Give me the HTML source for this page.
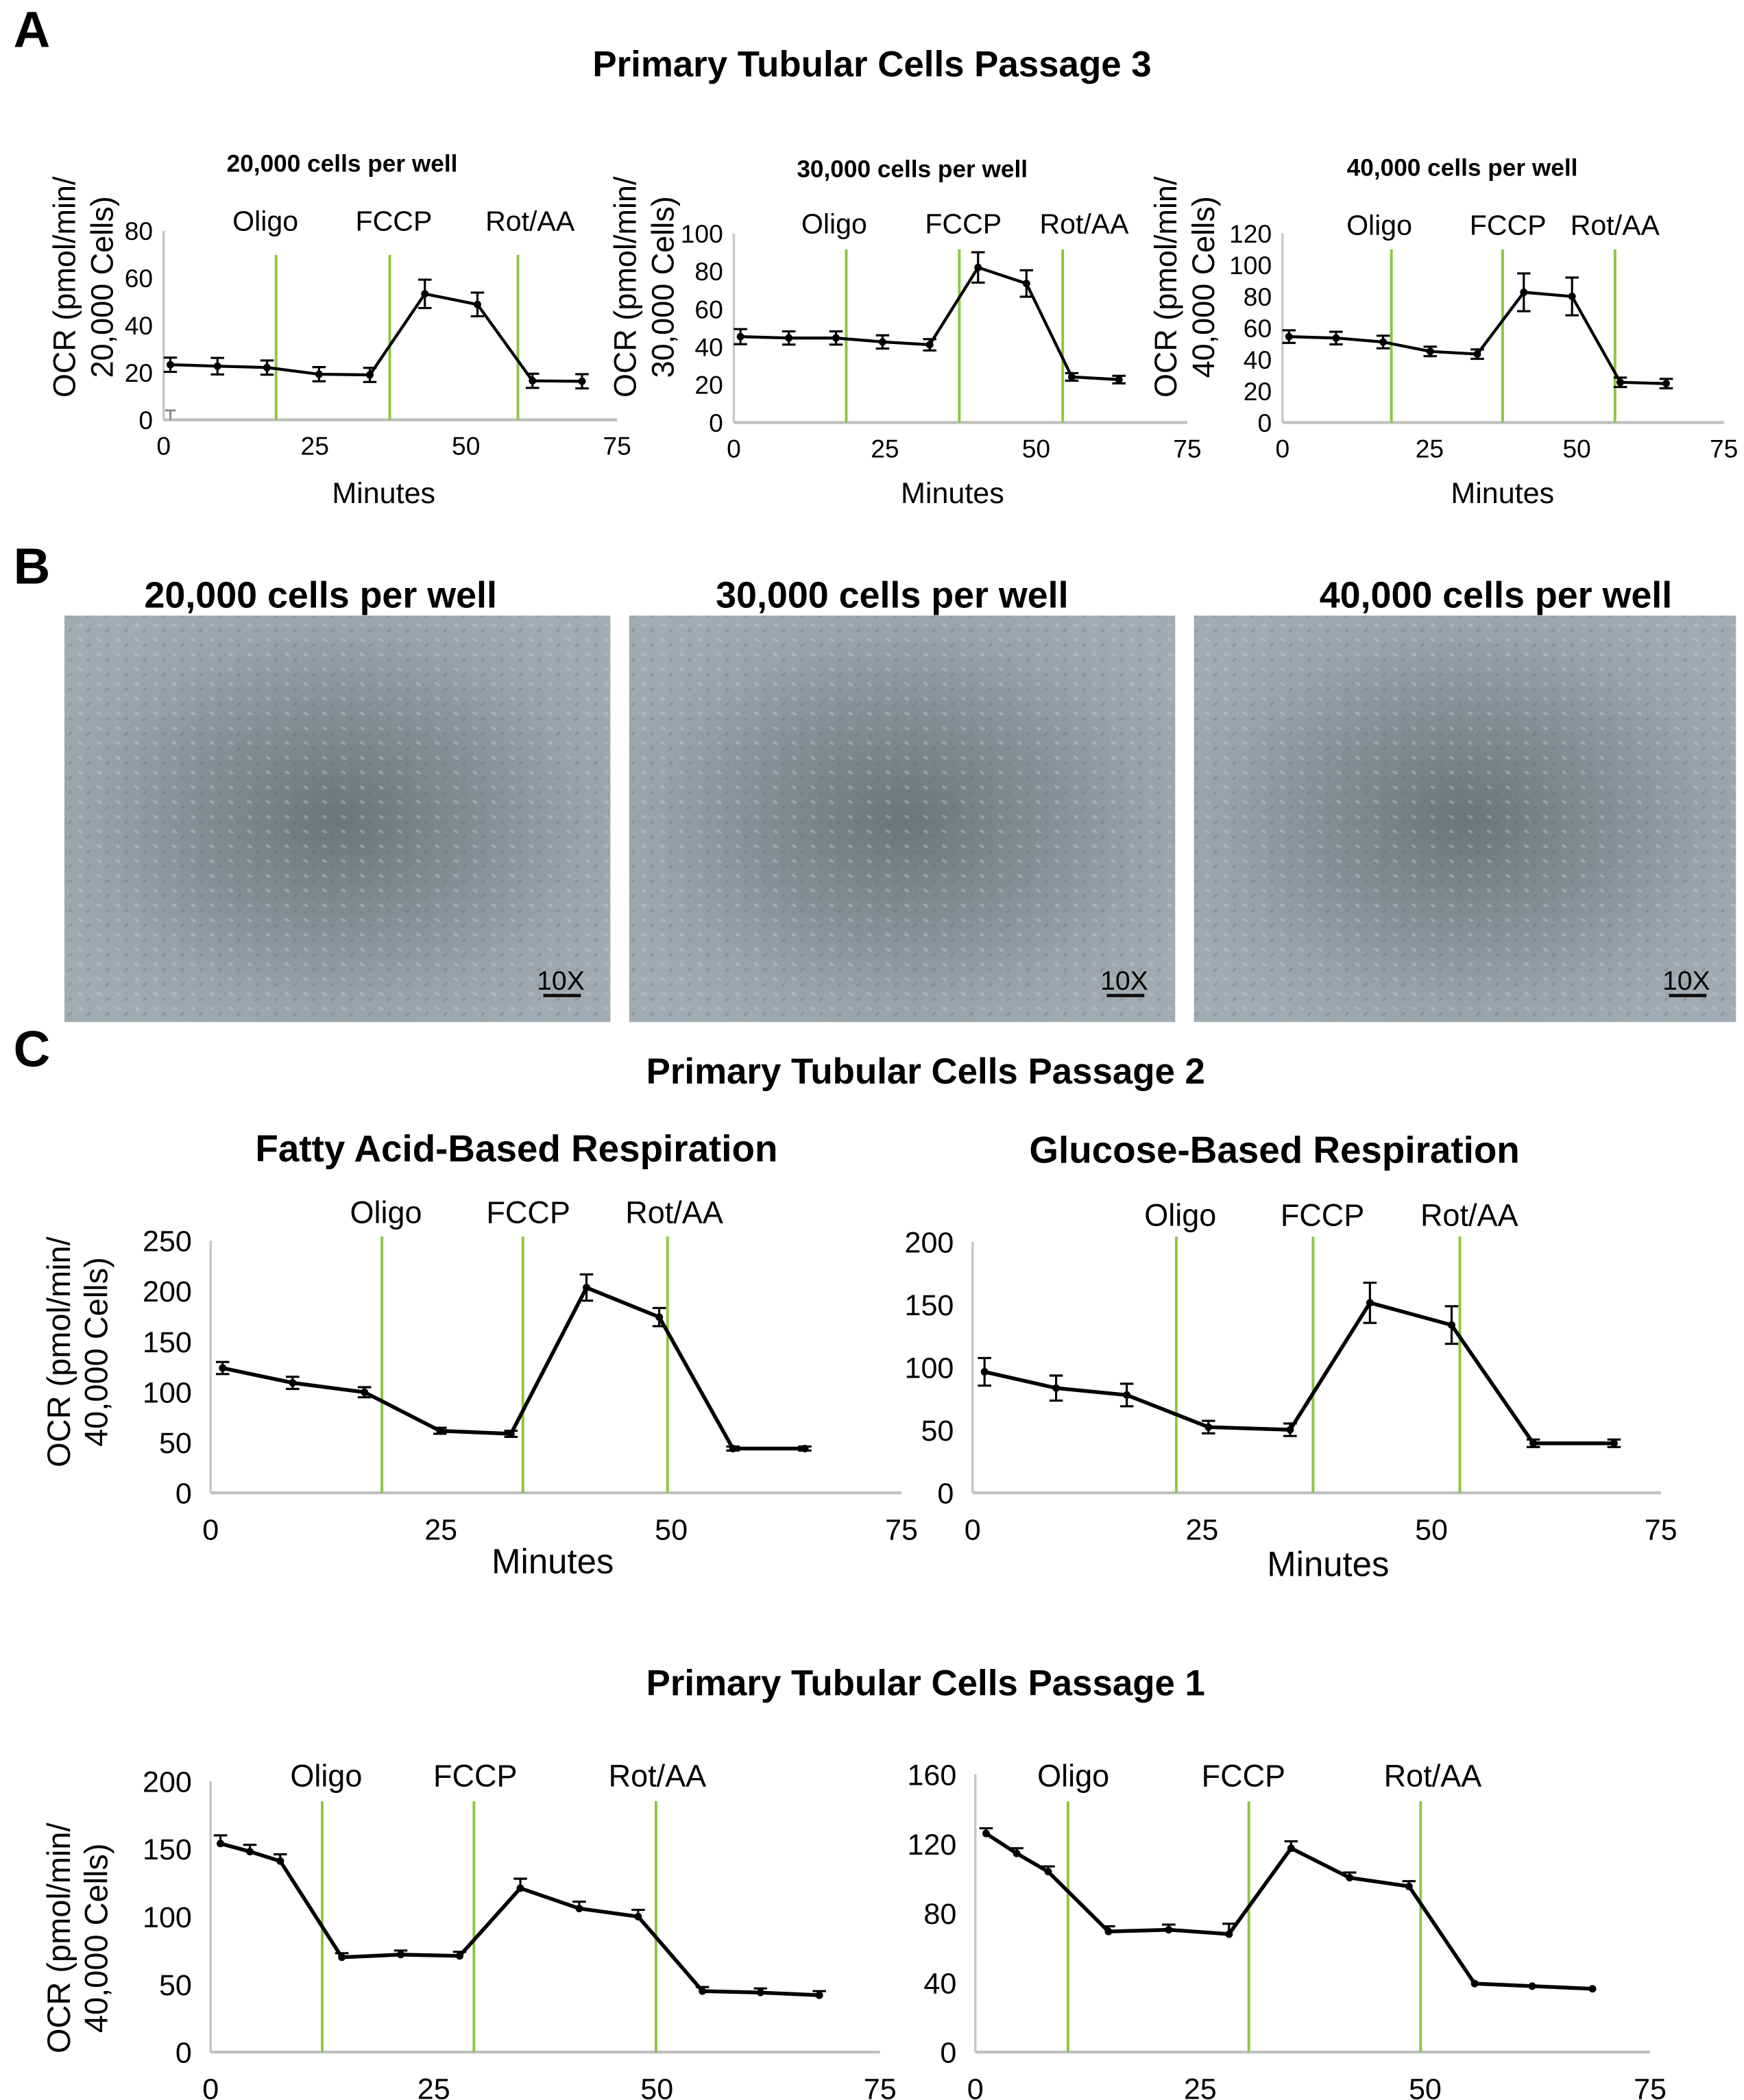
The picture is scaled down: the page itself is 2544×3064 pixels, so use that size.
<!DOCTYPE html>
<html><head><meta charset="utf-8"><style>
html,body{margin:0;padding:0;background:#fff}
svg{display:block}
text{font-family:"Liberation Sans",sans-serif;fill:#000}
</style></head><body>
<svg id="fig" width="2544" height="3064" viewBox="0 0 1300 1565.7" xmlns="http://www.w3.org/2000/svg">
<defs>
<radialGradient id="cellg" cx="50%" cy="50%" r="60%">
<stop offset="0" stop-color="#6c7678"/><stop offset="0.35" stop-color="#7f8a8d"/><stop offset="0.75" stop-color="#97a3a9"/><stop offset="1" stop-color="#a0acb2"/>
</radialGradient>
<pattern id="cellp" width="14" height="11" patternUnits="userSpaceOnUse">
<ellipse cx="4" cy="4" rx="2.2" ry="1.1" fill="#c8d2d6" opacity="0.35" transform="rotate(30 4 4)"/>
<ellipse cx="10" cy="8" rx="2" ry="1" fill="#55626a" opacity="0.25" transform="rotate(-40 10 8)"/>
</pattern>
</defs>
<g>
<text x="10" y="35" font-size="38" font-weight="bold">A</text>
<text x="650" y="57" font-size="27" font-weight="bold" text-anchor="middle">Primary Tubular Cells Passage 3</text>
</g>
<g>
<text x="10" y="435" font-size="38" font-weight="bold">B</text>
<text x="239" y="453" font-size="27.5" font-weight="bold" text-anchor="middle">20,000 cells per well</text>
<text x="665" y="453" font-size="27.5" font-weight="bold" text-anchor="middle">30,000 cells per well</text>
<text x="1115" y="453" font-size="27.5" font-weight="bold" text-anchor="middle">40,000 cells per well</text>
<g><rect x="48" y="459" width="407" height="303" fill="url(#cellg)"/><rect x="48" y="459" width="407" height="303" fill="url(#cellp)"/><text x="418" y="738" font-size="20" text-anchor="middle">10X</text><rect x="405" y="741" width="28" height="2.5" fill="#111"/></g>
<g><rect x="469" y="459" width="407" height="303" fill="url(#cellg)"/><rect x="469" y="459" width="407" height="303" fill="url(#cellp)"/><text x="838" y="738" font-size="20" text-anchor="middle">10X</text><rect x="825" y="741" width="28" height="2.5" fill="#111"/></g>
<g><rect x="890" y="459" width="404" height="303" fill="url(#cellg)"/><rect x="890" y="459" width="404" height="303" fill="url(#cellp)"/><text x="1257" y="738" font-size="20" text-anchor="middle">10X</text><rect x="1244" y="741" width="28" height="2.5" fill="#111"/></g>
</g>
<g>
<text x="10" y="795" font-size="38" font-weight="bold">C</text>
<text x="690" y="808" font-size="27" font-weight="bold" text-anchor="middle">Primary Tubular Cells Passage 2</text>
<text x="690" y="1264" font-size="27" font-weight="bold" text-anchor="middle">Primary Tubular Cells Passage 1</text>
</g>
</svg>
<script>
// ---- data (minutes, OCR values, error) ----
const a1Minutes=[1.1,8.9,17.1,25.7,34.1,43.2,51.9,61.0,69.2];
const a1Values=[23.3,22.7,22.1,19.3,19.0,53.3,48.8,16.5,16.3];
const a1Errors=[3,3.5,3,3,3,6,5,3,3];
const a2Minutes=[1.1,9.1,16.9,24.6,32.4,40.4,48.4,55.9,63.7];
const a2Values=[45.4,44.7,44.7,42.6,41.1,82,73.5,24.1,22.7];
const a2Errors=[4,3.5,3.5,3.5,3,8,7,2,2];
const a3Minutes=[1.1,9.1,17.1,25.1,33.1,41.0,49.2,57.4,65.2];
const a3Values=[54.5,53.6,51.1,45.1,43.4,82.6,80,25.5,24.7];
const a3Errors=[4,4,4,3,3,12,12,3,3];
const faMinutes=[1.3,8.9,16.7,24.9,32.6,40.8,48.7,56.7,64.5];
const faValues=[123.7,109,99.7,61.5,58.5,203.5,174.2,43.9,43.9];
const faErrors=[6,6,5,3,3,13,9,2,2];
const glMinutes=[1.3,9.1,16.8,25.7,34.6,43.3,52.2,61.1,69.9];
const glValues=[96.5,83.5,78,52.4,50.3,151.5,133.8,39.5,39.5];
const glErrors=[11,10,9,5,5,16,15,3,3];
const p1aMinutes=[1.1,4.4,7.8,14.7,21.3,27.9,34.7,41.3,47.9,55.1,61.6,68.2];
const p1aValues=[154,148,141,70,72,71,121,106,100,45,44,42];
const p1aErrors=[6,5,5,3,3,3,7,5,5,3,3,3];
const p1bMinutes=[1.2,4.6,8.1,14.8,21.5,28.2,35.1,41.6,48.2,55.5,61.9,68.6];
const p1bValues=[126,114.5,104,69.5,70.5,68,117.5,100.5,95.5,39.5,38,36.5];
const p1bErrors=[3,3,3,3,3,6,4,3,3,0,0,0];
const xTicks=[0,25,50,75];
const a1YTicks=[0,20,40,60,80];
const a2YTicks=[0,20,40,60,80,100];
const a3YTicks=[0,20,40,60,80,100,120];
const faYTicks=[0,50,100,150,200,250];
const glYTicks=[0,50,100,150,200];
const p1aYTicks=[0,50,100,150,200];
const p1bYTicks=[0,40,80,120,160];
const injections=["Oligo","FCCP","Rot/AA"];
const a1Inject=[18.6,37.4,58.6];
const a2Inject=[18.6,37.3,54.4];
const a3Inject=[18.5,37.4,56.5];
const faInject=[18.6,33.9,49.6];
const glInject=[22.2,37.1,53.1];
const p1aInject=[12.5,29.5,49.9];
const p1bInject=[10.3,30.4,49.5];

const NS="http://www.w3.org/2000/svg";
const svg=document.getElementById('fig');
function mk(tag,attrs,parent){const e=document.createElementNS(NS,tag);for(const k in attrs)e.setAttribute(k,attrs[k]);(parent||svg).appendChild(e);return e;}

function chart(name,c,mins,vals,errs,yt,inj){
  const g=mk('g',{});
  
  
  const ymax=yt[yt.length-1];
  const X=m=>c.x0+(m/75)*(c.x1-c.x0);
  const Y=v=>c.y0-(v/ymax)*(c.y0-c.yTop);
  const ya=mk('line',{x1:c.x0,y1:c.y0,x2:c.x0,y2:c.yTop,stroke:'#c8c8c8','stroke-width':1.8},g);
  
  
  const xa=mk('line',{x1:c.x0,y1:c.y0,x2:c.x1,y2:c.y0,stroke:'#c0c0c0','stroke-width':2.2},g);
  
  
  yt.forEach(v=>{const t=mk('text',{x:c.x0-c.tickGap,y:Y(v)+c.tfs*0.36,'font-size':c.tfs,'text-anchor':'end'},g);t.textContent=v;
    
    });
  xTicks.forEach(v=>{const t=mk('text',{x:X(v),y:c.y0+c.xTickDy,'font-size':c.tfs,'text-anchor':'middle'},g);t.textContent=v;
    
    });
  inj.forEach((m,i)=>{const l=mk('line',{x1:X(m),y1:c.y0,x2:X(m),y2:c.gTop,stroke:'#8dc63f','stroke-width':2},g);
    
    
    const t=mk('text',{x:X(m)+c.labOff[i],y:c.labY,'font-size':c.lfs,'text-anchor':'middle'},g);t.textContent=injections[i];
    
    });
  const pts=mins.map((m,i)=>X(m).toFixed(1)+','+Y(vals[i]).toFixed(1)).join(' ');
  const pl=mk('polyline',{points:pts,fill:'none',stroke:'#000','stroke-width':c.lw,'stroke-linejoin':'round'},g);
  
  
  mins.forEach((m,i)=>{const x=X(m),y=Y(vals[i]);
    if(errs[i]>0){const yh=Y(vals[i]+errs[i]),yl=c.upOnly?y:Y(vals[i]-errs[i]);
      const eb=mk('path',{d:`M${x},${yl}V${yh}M${x-5},${yh}H${x+5}`+(c.upOnly?'':`M${x-5},${yl}H${x+5}`),stroke:'#000','stroke-width':1.6,fill:'none'},g);
      
      }
    const p=mk('circle',{cx:x,cy:y,r:2.8,fill:'#000'},g);
    
    });
  if(c.sub){const t=mk('text',{x:c.sub[0],y:c.sub[1],'font-size':c.sub[2],'font-weight':'bold','text-anchor':'middle'},g);t.textContent=c.sub[3];
    
    }
  if(c.xlab){const t=mk('text',{x:c.xlab[0],y:c.xlab[1],'font-size':c.xlab[2],'text-anchor':'middle'},g);t.textContent='Minutes';
    
    }
  if(c.ylab){const [x1,x2,cy,fs,l2]=c.ylab;
    const t1=mk('text',{x:0,y:0,'font-size':fs,'text-anchor':'middle',transform:`translate(${x1},${cy}) rotate(-90)`},g);t1.textContent='OCR (pmol/min/';
    
    
    const t2=mk('text',{x:0,y:0,'font-size':fs,'text-anchor':'middle',transform:`translate(${x2},${cy}) rotate(-90)`},g);t2.textContent=l2;
    
    }
  return {g,X,Y};
}
const baseA={tfs:19,lfs:21,lw:2.2,tickGap:8,xTickDy:26};
chart('chart-20000-cells',Object.assign({},baseA,{x0:122,x1:460,y0:313,yTop:172,gTop:190,labY:172,labOff:[-8,3,9],sub:[255,128,18,'20,000 cells per well'],xlab:[286,375,22],ylab:[56,84,214,23,'20,000 Cells)']}),a1Minutes,a1Values,a1Errors,a1YTicks,a1Inject);
const gz=mk('path',{d:'M127,306V313M123,306H131',stroke:'#888','stroke-width':1.5});


chart('chart-30000-cells',Object.assign({},baseA,{x0:547,x1:885,y0:315,yTop:174,gTop:186,labY:174,labOff:[-9,3,16],sub:[680,132,18,'30,000 cells per well'],xlab:[710,375,22],ylab:[474,502,214,23,'30,000 Cells)']}),a2Minutes,a2Values,a2Errors,a2YTicks,a2Inject);
chart('chart-40000-cells',Object.assign({},baseA,{x0:956,x1:1285,y0:315,yTop:174,gTop:186,labY:175,labOff:[-9,4,0],sub:[1090,131,18,'40,000 cells per well'],xlab:[1120,375,22],ylab:[877,905,214,23,'40,000 Cells)']}),a3Minutes,a3Values,a3Errors,a3YTicks,a3Inject);
const baseC={tfs:22,lfs:23,lw:2.8,tickGap:14,xTickDy:35};
chart('chart-fatty-acid',Object.assign({},baseC,{x0:157,x1:672,y0:1113,yTop:925,gTop:922,labY:912,labOff:[3,4,5],sub:[385,866,28,'Fatty Acid-Based Respiration'],xlab:[412,1173,26],ylab:[52,80,1008,24,'40,000 Cells)']}),faMinutes,faValues,faErrors,faYTicks,faInject);
chart('chart-glucose',Object.assign({},baseC,{x0:725,x1:1238,y0:1113,yTop:926,gTop:922,labY:914,labOff:[3,7,7],sub:[950,867,28,'Glucose-Based Respiration'],xlab:[990,1175,26]}),glMinutes,glValues,glErrors,glYTicks,glInject);
chart('chart-passage1-left',Object.assign({},baseC,{x0:157,x1:656,y0:1530,yTop:1328,gTop:1343,labY:1332,labOff:[3,1,1],upOnly:true,ylab:[52,80,1445,24,'40,000 Cells)']}),p1aMinutes,p1aValues,p1aErrors,p1aYTicks,p1aInject);
chart('chart-passage1-right',Object.assign({},baseC,{x0:727,x1:1230,y0:1530,yTop:1323,gTop:1343,labY:1332,labOff:[4,-4,9],upOnly:true}),p1bMinutes,p1bValues,p1bErrors,p1bYTicks,p1bInject);
</script>
</body></html>
